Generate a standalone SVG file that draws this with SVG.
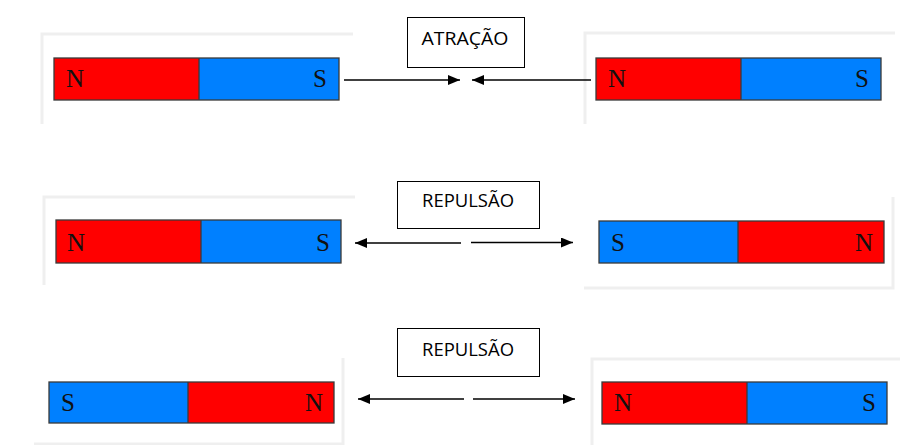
<svg xmlns="http://www.w3.org/2000/svg" width="910" height="445" viewBox="0 0 910 445">
<style>
.frame{fill:none;stroke:#efefef;stroke-width:3}
.red{fill:#ff0000}
.blue{fill:#0080ff}
.outline{fill:none;stroke:#3a3a3a;stroke-width:1.3}
.pole{font-family:"Liberation Serif","Times New Roman",serif;font-size:25px;fill:#111}
.lbl{fill:#fff;stroke:#000;stroke-width:1}
.lbltxt{font-family:"Open Sans","Noto Sans",sans-serif;font-size:18.5px;fill:#000;text-anchor:middle}
.conn line{stroke:#000;stroke-width:1.4}
</style>
<defs>
<marker id="ah" viewBox="0 0 12 10" refX="12" refY="5" markerWidth="12" markerHeight="10" markerUnits="userSpaceOnUse" orient="auto">
<path d="M0,0 L12,5 L0,10 z" fill="#000"/>
</marker>
</defs>
<rect width="910" height="445" fill="#fff"/>

<!-- Row 1 -->
<g id="magnet-r1-left">
<path class="frame" d="M42,124 V34 H353"/>
<rect class="red" x="54" y="58" width="145" height="42"/>
<rect class="blue" x="199" y="58" width="140" height="42"/>
<rect class="outline" x="54" y="58" width="285" height="42"/>
<line x1="199" y1="58" x2="199" y2="100" stroke="#3a3a3a" stroke-width="1.3"/>
<text class="pole" x="66" y="87">N</text>
<text class="pole" x="327" y="87" text-anchor="end">S</text>
</g>
<g id="label-atracao">
<rect class="lbl" x="407.5" y="17.5" width="117" height="50"/>
<text class="lbltxt" x="465" y="45" textLength="87" lengthAdjust="spacingAndGlyphs">ATRAÇÃO</text>
</g>
<g id="magnet-r1-right">
<path class="frame" d="M585,124 V33 H895"/>
<rect class="red" x="596" y="58" width="145" height="42"/>
<rect class="blue" x="741" y="58" width="140" height="42"/>
<rect class="outline" x="596" y="58" width="285" height="42"/>
<line x1="741" y1="58" x2="741" y2="100" stroke="#3a3a3a" stroke-width="1.3"/>
<text class="pole" x="608" y="87">N</text>
<text class="pole" x="869" y="87" text-anchor="end">S</text>
</g>

<!-- Row 2 -->
<g id="magnet-r2-left">
<path class="frame" d="M44,285 V197 H355"/>
<rect class="red" x="56" y="220" width="145" height="43"/>
<rect class="blue" x="201" y="220" width="140" height="43"/>
<rect class="outline" x="56" y="220" width="285" height="43"/>
<line x1="201" y1="220" x2="201" y2="263" stroke="#3a3a3a" stroke-width="1.3"/>
<text class="pole" x="67" y="251">N</text>
<text class="pole" x="330" y="251" text-anchor="end">S</text>
</g>
<g id="label-repulsao-1">
<rect class="lbl" x="397.5" y="181.5" width="142" height="47"/>
<text class="lbltxt" x="468" y="207" textLength="92" lengthAdjust="spacingAndGlyphs">REPULSÃO</text>
</g>
<g id="magnet-r2-right">
<path class="frame" d="M584,288 H893 V197"/>
<rect class="blue" x="599" y="221" width="139" height="42"/>
<rect class="red" x="738" y="221" width="146" height="42"/>
<rect class="outline" x="599" y="221" width="285" height="42"/>
<line x1="738" y1="221" x2="738" y2="263" stroke="#3a3a3a" stroke-width="1.3"/>
<text class="pole" x="611" y="251">S</text>
<text class="pole" x="873" y="251" text-anchor="end">N</text>
</g>

<!-- Row 3 -->
<g id="magnet-r3-left">
<path class="frame" d="M34,444 H343 V358"/>
<rect class="blue" x="49" y="382" width="139" height="41"/>
<rect class="red" x="188" y="382" width="146" height="41"/>
<rect class="outline" x="49" y="382" width="285" height="41"/>
<line x1="188" y1="382" x2="188" y2="423" stroke="#3a3a3a" stroke-width="1.3"/>
<text class="pole" x="61" y="411">S</text>
<text class="pole" x="323" y="411" text-anchor="end">N</text>
</g>
<g id="label-repulsao-2">
<rect class="lbl" x="397.5" y="328.5" width="142" height="48"/>
<text class="lbltxt" x="468" y="356" textLength="92" lengthAdjust="spacingAndGlyphs">REPULSÃO</text>
</g>
<g id="magnet-r3-right">
<path class="frame" d="M592,445 V359 H900"/>
<rect class="red" x="602" y="382" width="145" height="42"/>
<rect class="blue" x="747" y="382" width="140" height="42"/>
<rect class="outline" x="602" y="382" width="285" height="42"/>
<line x1="747" y1="382" x2="747" y2="424" stroke="#3a3a3a" stroke-width="1.3"/>
<text class="pole" x="614" y="411">N</text>
<text class="pole" x="876" y="411" text-anchor="end">S</text>
</g>

<g id="connectors" class="conn">
<line x1="344" y1="80" x2="460" y2="80" marker-end="url(#ah)"/>
<line x1="591" y1="80" x2="472" y2="80" marker-end="url(#ah)"/>
<line x1="461" y1="243" x2="355" y2="243" marker-end="url(#ah)"/>
<line x1="471" y1="242.5" x2="573" y2="242.5" marker-end="url(#ah)"/>
<line x1="464" y1="399" x2="358" y2="399" marker-end="url(#ah)"/>
<line x1="473" y1="399" x2="575" y2="399" marker-end="url(#ah)"/>
</g>
</svg>
